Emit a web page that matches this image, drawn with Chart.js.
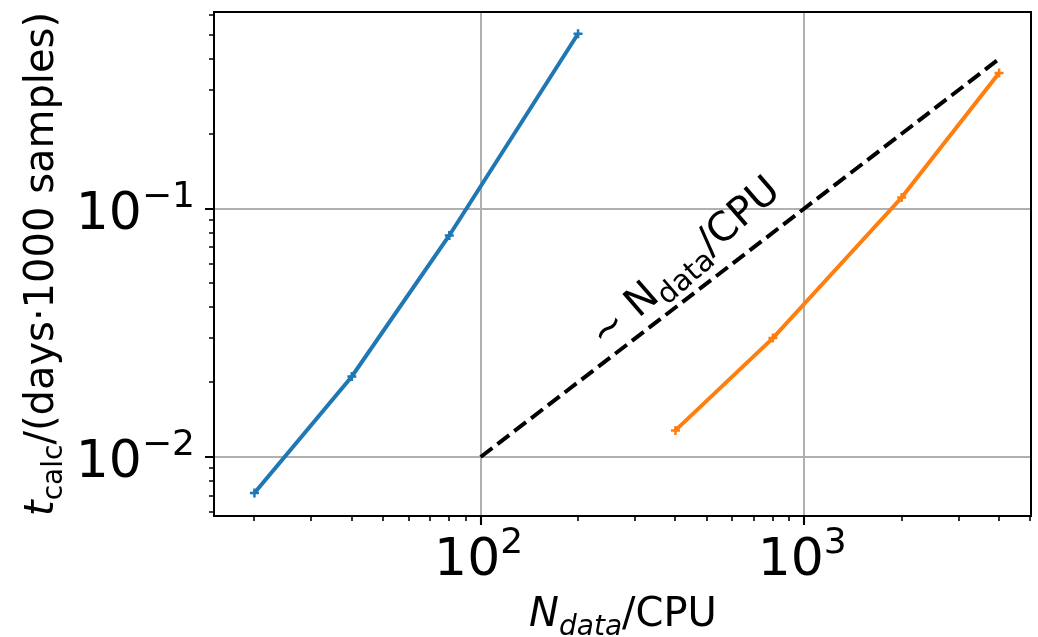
<!DOCTYPE html>
<html>
<head>
<meta charset="utf-8">
<script src="https://cdn.jsdelivr.net/npm/chart.js@4"></script>
<style>
html,body{margin:0;padding:0;background:#fff;}
#wrap{width:1038px;height:637px;}
</style>
</head>
<body>
<div id="wrap"><canvas id="c" width="1038" height="637"></canvas></div>
<script>
// ---- data ----
const blueX = [20, 40, 80, 200];
const blueY = [0.00716, 0.0211, 0.0779, 0.505];
const orangeX = [400, 800, 2000, 4000];
const orangeY = [0.0128, 0.0301, 0.1107, 0.351];
const refX = [100, 4000];
const refY = [0.01, 0.4];
// ---- tick values and labels ----
const xTickValues = [20,30,40,50,60,70,80,90,100,200,300,400,500,600,700,800,900,1000,2000,3000,4000,5000];
const xMajorValues = [100, 1000];
const xMajorExps = ['2', '3'];
const yTickValues = [0.006,0.007,0.008,0.009,0.01,0.02,0.03,0.04,0.05,0.06,0.07,0.08,0.09,0.1,0.2,0.3,0.4,0.5,0.6];
const yMajorValues = [0.01, 0.1];
const yMajorExps = ['\u22122', '\u22121'];

const FONT = '"DejaVu Sans", sans-serif';
const BASE_FONT = '52px ' + FONT;
const SUP_FONT = '36px ' + FONT;

function pts(xs, ys){ return xs.map((v,i)=>({x:v, y:ys[i]})); }

function runsWidth(ctx, runs){
  let w = 0;
  runs.forEach(r=>{ ctx.font = r.font; w += ctx.measureText(r.t).width; });
  return w;
}
// align: 'center' or 'right'
function drawRuns(ctx, runs, x, y, align){
  const w = runsWidth(ctx, runs);
  let cx = align === 'right' ? x - w : x - w/2;
  runs.forEach(r=>{
    ctx.font = r.font;
    ctx.fillText(r.t, cx, y + (r.dy||0));
    cx += ctx.measureText(r.t).width;
  });
}
function powRuns(exp){
  return [{t:'10', font:BASE_FONT}, {t:exp, font:SUP_FONT, dy:-22}];
}

const decor = {
  id: 'decor',
  afterDraw(chart){
    const {ctx, chartArea:a, scales:{x, y}} = chart;
    ctx.save();
    ctx.strokeStyle = '#000';
    // minor ticks
    ctx.lineWidth = 1.6;
    ctx.beginPath();
    xTickValues.filter(v=>!xMajorValues.includes(v)).forEach(v=>{
      const px = Math.round(x.getPixelForValue(v));
      ctx.moveTo(px, a.bottom); ctx.lineTo(px, a.bottom + 5);
    });
    yTickValues.filter(v=>!yMajorValues.includes(v)).forEach(v=>{
      const py = Math.round(y.getPixelForValue(v));
      ctx.moveTo(a.left, py); ctx.lineTo(a.left - 5, py);
    });
    ctx.stroke();
    // major ticks
    ctx.lineWidth = 2.1;
    ctx.beginPath();
    xMajorValues.forEach(v=>{
      const px = Math.round(x.getPixelForValue(v));
      ctx.moveTo(px, a.bottom); ctx.lineTo(px, a.bottom + 9);
    });
    yMajorValues.forEach(v=>{
      const py = Math.round(y.getPixelForValue(v));
      ctx.moveTo(a.left, py); ctx.lineTo(a.left - 9, py);
    });
    ctx.stroke();
    // spines
    ctx.lineWidth = 2;
    ctx.strokeRect(a.left, a.top, a.right - a.left, a.bottom - a.top);

    ctx.fillStyle = '#000';
    ctx.textBaseline = 'alphabetic';
    ctx.textAlign = 'left';
    // tick labels
    xMajorValues.forEach((v,i)=>{
      drawRuns(ctx, powRuns(xMajorExps[i]), x.getPixelForValue(v) - 2, 575, 'center');
    });
    yMajorValues.forEach((v,i)=>{
      drawRuns(ctx, powRuns(yMajorExps[i]), 195, y.getPixelForValue(v) + 20, 'right');
    });
    // x title
    drawRuns(ctx, [
      {t:'N', font:'italic 40px ' + FONT},
      {t:'data', font:'italic 28px ' + FONT, dy:9},
      {t:'/CPU', font:'40px ' + FONT}
    ], 623, 626, 'center');
    // y title
    ctx.save();
    ctx.translate(53, 264);
    ctx.rotate(-Math.PI/2);
    drawRuns(ctx, [
      {t:'t', font:'italic 40px ' + FONT},
      {t:'calc', font:'28px ' + FONT, dy:9},
      {t:'/(days\u00B71000 samples)', font:'40px ' + FONT}
    ], 0, 0, 'center');
    ctx.restore();
    // annotation along the reference line
    ctx.save();
    ctx.translate(683, 260);
    ctx.rotate(-41 * Math.PI/180);
    drawRuns(ctx, [
      {t:'~ N', font:'40px ' + FONT},
      {t:'data', font:'29px ' + FONT, dy:9},
      {t:'/CPU', font:'40px ' + FONT}
    ], 0, 15, 'center');
    ctx.restore();
    ctx.restore();
  }
};

function gridColor(majors){
  return (c) => (c.tick && majors.includes(c.tick.value)) ? '#b0b0b0' : 'rgba(0,0,0,0)';
}

new Chart(document.getElementById('c'), {
  type: 'line',
  data: {
    datasets: [
      {data: pts(blueX, blueY), borderColor:'#1f77b4', backgroundColor:'#1f77b4', borderWidth:4,
       pointStyle:'cross', pointRadius:4.5, pointBorderWidth:2.5, pointBorderColor:'#1f77b4', tension:0},
      {data: pts(refX, refY), borderColor:'#000', borderWidth:4, borderDash:[14.8,6.4], pointRadius:0, tension:0},
      {data: pts(orangeX, orangeY), borderColor:'#ff7f0e', backgroundColor:'#ff7f0e', borderWidth:4,
       pointStyle:'cross', pointRadius:4.5, pointBorderWidth:2.5, pointBorderColor:'#ff7f0e', tension:0}
    ]
  },
  options: {
    responsive: false,
    animation: false,
    devicePixelRatio: 1,
    layout: {padding: {top: 12, right: 6, left: 0, bottom: 0}},
    plugins: {legend:{display:false}, tooltip:{enabled:false}},
    scales: {
      x: {
        type: 'logarithmic', position: 'bottom', min: 15, max: 5020,
        afterBuildTicks: s => { s.ticks = xTickValues.map(v=>({value:v, major: xMajorValues.includes(v)})); },
        afterFit: s => { s.height = 121; s.paddingLeft = 0; s.paddingRight = 0; },
        ticks: {display:false, autoSkip:false},
        grid: {drawTicks:false, lineWidth:2, color: gridColor(xMajorValues)},
        border: {display:false}
      },
      y: {
        type: 'logarithmic', position: 'left', min: 0.00579, max: 0.618,
        afterBuildTicks: s => { s.ticks = yTickValues.map(v=>({value:v, major: yMajorValues.includes(v)})); },
        afterFit: s => { s.width = 214; s.paddingTop = 0; s.paddingBottom = 0; },
        ticks: {display:false, autoSkip:false},
        grid: {drawTicks:false, lineWidth:2, color: gridColor(yMajorValues)},
        border: {display:false}
      }
    }
  },
  plugins: [decor]
});
</script>
</body>
</html>
